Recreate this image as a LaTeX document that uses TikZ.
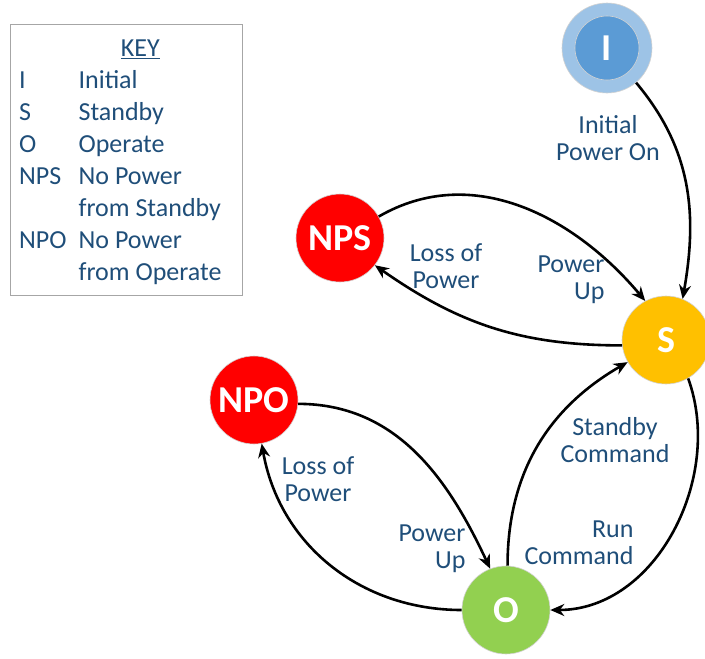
\documentclass[tikz,border=0pt]{standalone}
\usepackage{fontspec}
\setmainfont{Carlito}
\usetikzlibrary{arrows.meta}
\definecolor{keytext}{HTML}{1F4E79}
\definecolor{ltblue}{HTML}{9DC3E6}
\definecolor{midblue}{HTML}{5B9BD5}
\definecolor{sgold}{HTML}{FFC000}
\definecolor{ogreen}{HTML}{92D050}
\tikzset{%
  every state/.style={
    circle,
    draw=gray!35,
    line width=0.6pt,
    minimum size=88pt,
    inner sep=0pt,
    text=white,
    font=\fontsize{38}{40}\selectfont\bfseries
  },
  trans/.style={
    ->,
    line width=2.6pt
  },
  trans label/.style={
    text=keytext,
    font=\fontsize{26}{27}\selectfont
  },
}

\begin{document}
\begin{tikzpicture}[> = {Stealth[length=14pt,width=12pt]}, x=1pt, y=-1pt]
\useasboundingbox (0,0) rectangle (705,659);

% key box
\draw[gray!70, line width=1pt] (10,24) rectangle (242,295);
\node[trans label, font=\fontsize{26}{32}\selectfont, anchor=north west, align=left, inner sep=0pt] (keyA) at (19,34)
  {\begin{tabular}{@{}l@{\hspace{12pt}}l@{}}
   \multicolumn{2}{c}{\hspace{40pt}\underline{KEY}}\\
   I & Initial\\
   S & Standby\\
   O & Operate\\
   NPS & No Power\\
       & from Standby\\
   NPO & No Power\\
       & from Operate
   \end{tabular}};

% states
\node[every state, fill=ltblue, minimum size=90pt] (I) at (607,48) {};
\node[every state, fill=midblue, minimum size=64pt] (Iin) at (I) {I};
\node[every state, fill=sgold] (S) at (666,340) {S};
\node[every state, fill=red] (NPS) at (340,238) {NPS};
\node[every state, fill=red] (NPO) at (254,400) {NPO};
\node[every state, fill=ogreen] (O) at (506,610) {O};

% transitions
\draw[trans] (I.-50) to[out=-50, in=80] (S.68);
\draw[trans] (NPS.29) to[out=30, in=130] (S.118);
\draw[trans] (S.187) to[out=180, in=-35] (NPS.-38);
\draw[trans] (NPO.-5) to[out=0, in=115] (O.111);
\draw[trans] (O.180) to[out=180, in=-80] (NPO.-80);
\draw[trans] (O.88) to[out=90, in=210] (S.210);
\draw[trans] (S.-60) to[out=-70, in=0] (O.0);

% labels
\node[trans label, align=center] (lblInit) at (608,138) {Initial\\Power On};
\node[trans label, align=right] (lblUpS) at (571,280) {Power\\Up};
\node[trans label, align=center] (lblLossS) at (446,266) {Loss of\\Power};
\node[trans label, align=center] (lblStby) at (615,440) {Standby\\Command};
\node[trans label, align=center] (lblLossO) at (318,479) {Loss of\\Power};
\node[trans label, align=right] (lblUpO) at (432,549) {Power\\Up};
\node[trans label, align=right] (lblRun) at (579,543) {Run\\Command};
\end{tikzpicture}
\end{document}
